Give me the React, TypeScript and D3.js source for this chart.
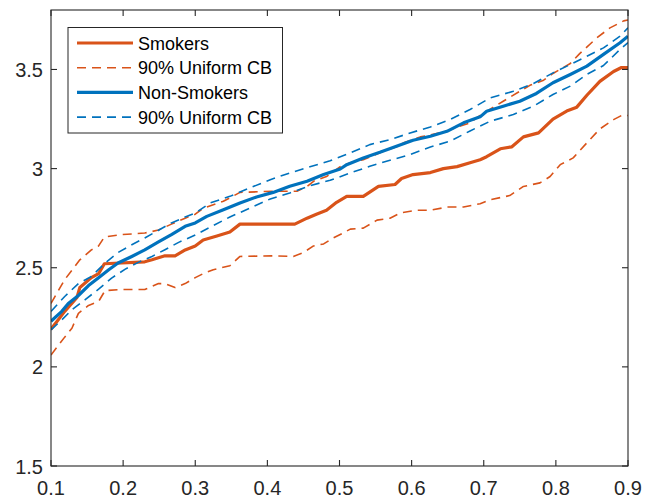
import * as d3 from "d3";

// quantile level (x) vs estimate (y)
const smokers: [number, number][] = [
  [0.100, 2.19], [0.119, 2.28], [0.136, 2.35], [0.140, 2.40], [0.156, 2.45], [0.166, 2.47], [0.174, 2.52],
  [0.230, 2.53], [0.240, 2.54], [0.258, 2.56], [0.272, 2.56], [0.286, 2.59], [0.300, 2.61], [0.311, 2.64],
  [0.330, 2.66], [0.348, 2.68], [0.362, 2.72], [0.438, 2.72], [0.455, 2.75], [0.468, 2.77], [0.482, 2.79],
  [0.496, 2.83], [0.510, 2.86], [0.533, 2.86], [0.554, 2.91], [0.577, 2.92], [0.586, 2.95], [0.602, 2.97],
  [0.626, 2.98], [0.644, 3.00], [0.663, 3.01], [0.681, 3.03], [0.695, 3.045], [0.704, 3.06], [0.723, 3.10],
  [0.739, 3.11], [0.755, 3.16], [0.776, 3.18], [0.796, 3.25], [0.815, 3.29], [0.829, 3.31], [0.843, 3.37],
  [0.861, 3.44], [0.880, 3.49], [0.891, 3.51], [0.900, 3.51],
];
const smokersUpper: [number, number][] = [
  [0.100, 2.32], [0.119, 2.44], [0.140, 2.54], [0.156, 2.59], [0.166, 2.61], [0.174, 2.655], [0.198, 2.667],
  [0.230, 2.675], [0.249, 2.69], [0.267, 2.72], [0.286, 2.75], [0.300, 2.77], [0.311, 2.80], [0.339, 2.835],
  [0.362, 2.88], [0.408, 2.886], [0.441, 2.886], [0.455, 2.91], [0.464, 2.936], [0.482, 2.96], [0.501, 3.01],
  [0.515, 3.03], [0.533, 3.045], [0.556, 3.08], [0.579, 3.11], [0.589, 3.13], [0.612, 3.16], [0.626, 3.17],
  [0.649, 3.19], [0.663, 3.21], [0.681, 3.23], [0.690, 3.256], [0.709, 3.30], [0.727, 3.34], [0.750, 3.39],
  [0.764, 3.42], [0.783, 3.446], [0.796, 3.48], [0.820, 3.53], [0.833, 3.58], [0.857, 3.66], [0.875, 3.71],
  [0.894, 3.745], [0.900, 3.75],
];
const smokersLower: [number, number][] = [
  [0.100, 2.06], [0.119, 2.15], [0.129, 2.195], [0.138, 2.27], [0.152, 2.31], [0.166, 2.33], [0.175, 2.385],
  [0.198, 2.39], [0.230, 2.39], [0.249, 2.42], [0.258, 2.42], [0.272, 2.40], [0.286, 2.42], [0.300, 2.45],
  [0.311, 2.47], [0.325, 2.49], [0.348, 2.51], [0.362, 2.557], [0.408, 2.56], [0.436, 2.557], [0.450, 2.577],
  [0.464, 2.61], [0.478, 2.62], [0.491, 2.65], [0.505, 2.675], [0.515, 2.695], [0.533, 2.70], [0.552, 2.74],
  [0.570, 2.75], [0.584, 2.776], [0.607, 2.79], [0.626, 2.79], [0.649, 2.806], [0.672, 2.806], [0.695, 2.823],
  [0.709, 2.843], [0.736, 2.864], [0.755, 2.91], [0.778, 2.928], [0.792, 2.96], [0.806, 3.02], [0.824, 3.054],
  [0.843, 3.13], [0.861, 3.20], [0.880, 3.247], [0.891, 3.268], [0.900, 3.268],
];
const nonSmokers: [number, number][] = [
  [0.100, 2.23], [0.115, 2.28], [0.124, 2.32], [0.138, 2.36], [0.152, 2.41], [0.166, 2.45], [0.180, 2.49],
  [0.193, 2.524], [0.212, 2.557], [0.230, 2.59], [0.249, 2.63], [0.267, 2.667], [0.286, 2.709], [0.300, 2.726],
  [0.316, 2.759], [0.339, 2.793], [0.362, 2.827], [0.385, 2.857], [0.408, 2.88], [0.431, 2.911], [0.455, 2.936],
  [0.478, 2.97], [0.501, 2.998], [0.510, 3.02], [0.533, 3.054], [0.556, 3.082], [0.579, 3.113], [0.602, 3.143],
  [0.626, 3.163], [0.649, 3.188], [0.672, 3.231], [0.695, 3.261], [0.704, 3.289], [0.727, 3.315], [0.750, 3.34],
  [0.773, 3.379], [0.796, 3.433], [0.820, 3.475], [0.843, 3.517], [0.866, 3.576], [0.889, 3.635], [0.900, 3.668],
];
const nonSmokersUpper: [number, number][] = [
  [0.100, 2.28], [0.119, 2.355], [0.138, 2.42], [0.156, 2.456], [0.175, 2.524], [0.193, 2.577], [0.212, 2.616],
  [0.230, 2.65], [0.249, 2.689], [0.267, 2.726], [0.286, 2.756], [0.300, 2.776], [0.321, 2.827], [0.348, 2.86],
  [0.376, 2.903], [0.404, 2.944], [0.431, 2.978], [0.459, 3.009], [0.487, 3.04], [0.515, 3.079], [0.542, 3.121],
  [0.570, 3.146], [0.598, 3.18], [0.626, 3.21], [0.653, 3.247], [0.681, 3.298], [0.709, 3.357], [0.741, 3.39],
  [0.769, 3.429], [0.796, 3.483], [0.820, 3.525], [0.843, 3.567], [0.866, 3.609], [0.889, 3.668], [0.900, 3.71],
];
const nonSmokersLower: [number, number][] = [
  [0.100, 2.187], [0.115, 2.237], [0.129, 2.288], [0.147, 2.338], [0.166, 2.392], [0.184, 2.448], [0.203, 2.493],
  [0.221, 2.527], [0.240, 2.557], [0.258, 2.591], [0.277, 2.628], [0.300, 2.665], [0.321, 2.705], [0.348, 2.756],
  [0.376, 2.801], [0.404, 2.847], [0.431, 2.877], [0.459, 2.914], [0.487, 2.941], [0.515, 2.978], [0.542, 3.012],
  [0.570, 3.042], [0.598, 3.071], [0.626, 3.109], [0.653, 3.138], [0.681, 3.19], [0.709, 3.239], [0.741, 3.273],
  [0.769, 3.315], [0.796, 3.374], [0.820, 3.416], [0.843, 3.475], [0.866, 3.52], [0.889, 3.601], [0.900, 3.635],
];

const xTicks = [0.1, 0.2, 0.3, 0.4, 0.5, 0.6, 0.7, 0.8, 0.9];
const yTicks = [1.5, 2, 2.5, 3, 3.5];
const legendLabels = ["Smokers", "90% Uniform CB", "Non-Smokers", "90% Uniform CB"];

const ORANGE = "#D95319";
const BLUE = "#0072BD";
const AXIS = "#262626";
const FONT = "Helvetica, 'Liberation Sans', Arial, sans-serif";

const W = 648, H = 502;
const left = 51, right = 628, top = 10, bottom = 466;

export default function App() {
  const x = d3.scaleLinear().domain([0.1, 0.9]).range([left, right]);
  const y = d3.scaleLinear().domain([1.5, 3.8]).range([bottom, top]);
  const line = d3.line<[number, number]>().x(d => x(d[0])).y(d => y(d[1]));

  const series = [
    { data: smokersLower, color: ORANGE, dashed: true },
    { data: smokersUpper, color: ORANGE, dashed: true },
    { data: smokers, color: ORANGE, dashed: false },
    { data: nonSmokersLower, color: BLUE, dashed: true },
    { data: nonSmokersUpper, color: BLUE, dashed: true },
    { data: nonSmokers, color: BLUE, dashed: false },
  ];
  const legendItems = [
    { color: ORANGE, dashed: false },
    { color: ORANGE, dashed: true },
    { color: BLUE, dashed: false },
    { color: BLUE, dashed: true },
  ];
  const tickLen = 6;

  return (
    <div style={{ position: "absolute", left: 0, top: 0 }}>
      <svg width={W} height={H} style={{ display: "block", background: "#fff" }}>
        <defs>
          <clipPath id="plotclip">
            <rect x={left} y={top} width={right - left} height={bottom - top} />
          </clipPath>
        </defs>
        <g clipPath="url(#plotclip)">
          {series.map((s, i) => (
            <path
              key={i}
              d={line(s.data) ?? ""}
              fill="none"
              stroke={s.color}
              strokeWidth={s.dashed ? 1.6 : 3.2}
              strokeDasharray={s.dashed ? "9,6" : undefined}
              strokeLinejoin="round"
            />
          ))}
        </g>

        {/* axes box and ticks */}
        <rect x={left} y={top} width={right - left} height={bottom - top} fill="none" stroke={AXIS} strokeWidth={1.1} />
        {xTicks.map(t => (
          <g key={"x" + t}>
            <line x1={x(t)} x2={x(t)} y1={bottom} y2={bottom - tickLen} stroke={AXIS} strokeWidth={1.1} />
            <line x1={x(t)} x2={x(t)} y1={top} y2={top + tickLen} stroke={AXIS} strokeWidth={1.1} />
            <text x={x(t)} y={495} textAnchor="middle" fontFamily={FONT} fontSize={20} fill={AXIS}>
              {d3.format(".1f")(t)}
            </text>
          </g>
        ))}
        {yTicks.map(t => (
          <g key={"y" + t}>
            <line x1={left} x2={left + tickLen} y1={y(t)} y2={y(t)} stroke={AXIS} strokeWidth={1.1} />
            <line x1={right} x2={right - tickLen} y1={y(t)} y2={y(t)} stroke={AXIS} strokeWidth={1.1} />
            <text x={43} y={y(t) + 7.5} textAnchor="end" fontFamily={FONT} fontSize={20} fill={AXIS}>
              {d3.format("~g")(t)}
            </text>
          </g>
        ))}

        {/* legend */}
        <rect x={68} y={27.5} width={214.5} height={105.5} fill="#fff" stroke={AXIS} strokeWidth={1} />
        {legendItems.map((it, i) => {
          const cy = 43 + i * 24.7;
          return (
            <g key={"lg" + i}>
              <line
                x1={77} x2={133} y1={cy} y2={cy}
                stroke={it.color}
                strokeWidth={it.dashed ? 1.6 : 3.2}
                strokeDasharray={it.dashed ? "9,6" : undefined}
              />
              <text x={138} y={cy + 6.5} fontFamily={FONT} fontSize={18} fill="#000">
                {legendLabels[i]}
              </text>
            </g>
          );
        })}
      </svg>
    </div>
  );
}
